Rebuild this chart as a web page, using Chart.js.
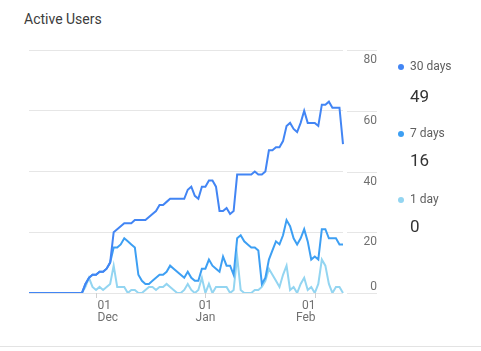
<!DOCTYPE html>
<html>
<head>
<meta charset="utf-8">
<title>Active Users</title>
<script src="https://cdn.jsdelivr.net/npm/chart.js@4.4.0/dist/chart.umd.min.js"></script>
<style>
  html, body { margin: 0; padding: 0; background: #fff; }
  body { width: 481px; height: 351px; position: relative; overflow: hidden; font-family: Roboto, 'Noto Sans', sans-serif; }
  #card-line { position: absolute; left: 0; top: 346px; width: 481px; height: 1px; background: #e3e3e3; }
  #title { position: absolute; left: 24px; top: 12px; font-size: 14px; line-height: 14px; color: #3c3c3c; white-space: nowrap; }
  #chart-wrap { position: absolute; left: 0; top: 0; width: 481px; height: 351px; }
  .lg-dot { position: absolute; width: 6px; height: 6px; border-radius: 50%; }
  .lg-name { position: absolute; font-size: 12px; line-height: 12px; color: #5f5f5f; white-space: nowrap; }
  .lg-value { position: absolute; font-size: 17px; line-height: 17px; color: #333; white-space: nowrap; }
</style>
</head>
<body>
<div id="title">Active Users</div>
<div id="chart-wrap"><canvas id="chart-active" width="481" height="351"></canvas></div>
<div id="legend"></div>
<div id="card-line"></div>
<script>
/* ── Data ── */
const startDay = '2018-11-12';

const seriesNames = ['30 days', '7 days', '1 day'];

const users30 = [
    0, 0, 0, 0, 0, 0, 0, 0, 0, 0, 0, 0, 0, 0, 0, 0,
    3, 5, 6, 6, 7, 7, 8, 10,
    20, 21, 22, 23, 23, 23,
    24, 24, 24, 24,
    25, 26, 27, 29, 29, 30,
    31, 31, 31, 31, 31,
    34, 35, 32, 31, 35, 35, 37, 37, 35,
    27, 27, 28, 26, 27,
    39, 39, 39, 39, 39, 40, 39, 39, 40,
    47, 47, 48, 48, 50,
    55, 56, 54, 53, 56, 60, 56, 56, 56, 55,
    62, 62, 63, 61, 61, 61, 49
];

const users7 = [
    0, 0, 0, 0, 0, 0, 0, 0, 0, 0, 0, 0, 0, 0, 0, 0,
    3, 5, 6, 6, 7, 7, 8, 10,
    15, 15, 16, 18, 17, 16, 15,
    6, 4, 3, 3, 4, 5, 6, 6,
    7, 9, 8, 7, 6, 5, 7, 5, 4, 4,
    8, 8, 11, 9, 8, 7, 12, 9, 9, 6,
    18, 19, 17, 16, 15, 15, 14,
    3, 5, 11, 14, 17, 16, 19,
    24, 22, 18, 16, 18, 21, 17, 11, 12, 11,
    21, 21, 18, 18, 18, 16, 16
];

const users1 = [
    0, 0, 0, 0, 0, 0, 0, 0, 0, 0, 0, 0, 0, 0, 0, 0,
    2, 5, 2, 1, 2, 1, 2, 3,
    9, 2, 2, 2, 0, 1, 1, 0, 0, 1,
    2, 2, 1, 2, 2, 3, 2, 1, 0, 0,
    1, 3, 1, 0, 1, 5, 0, 3, 0, 2,
    2, 2, 2, 0, 1, 12, 1, 0, 0, 0,
    1, 1, 2, 4, 8, 6, 4, 2, 6, 9,
    1, 2, 0, 3, 5, 1, 2, 0, 3, 11,
    9, 3, 0, 2, 2, 0
];

const yTicks = [0, 20, 40, 60, 80];
const xTickDates = ['2018-12-01', '2019-01-01', '2019-02-01'];
const xTickLabels = [['01', 'Dec'], ['01', 'Jan'], ['01', 'Feb']];

/* ── Styles ── */
const COLORS = ['#4285f4', '#3d9ff3', '#93d5f1'];
const GRID = '#e6e6e6';
const TICK_TEXT = '#707070';
const FONT = "12px Roboto, 'Noto Sans', sans-serif";

/* one category per day, starting at startDay */
const days = [];
for (let i = 0; i < users30.length; i++) {
    const d = new Date(startDay + 'T00:00:00Z');
    d.setUTCDate(d.getUTCDate() + i);
    days.push(d.toISOString().slice(0, 10));
}

/* ── Side ticks: short gridline stubs + labels right of the plot, date ticks below ── */
const sideTicks = {
    id: 'sideTicks',
    afterDraw(chart) {
        const { ctx, chartArea, scales: { x, y } } = chart;
        ctx.save();
        ctx.strokeStyle = GRID;
        ctx.lineWidth = 1;
        ctx.font = FONT;
        ctx.fillStyle = TICK_TEXT;

        // y axis
        ctx.textAlign = 'right';
        ctx.textBaseline = 'alphabetic';
        for (const v of yTicks) {
            const py = Math.round(y.getPixelForValue(v)) + 0.5;
            ctx.beginPath();
            ctx.moveTo(chartArea.right + 4, py);
            ctx.lineTo(377, py);
            ctx.stroke();
            const base = v === yTicks[0] ? py - 4 : py + 12;
            ctx.fillText(String(v), 377, base);
        }

        // x axis
        ctx.strokeStyle = '#d0d0d0';
        xTickDates.forEach((d, k) => {
            const px = Math.round(x.getPixelForValue(days.indexOf(d))) + 0.5;
            ctx.beginPath();
            ctx.moveTo(px, chartArea.bottom);
            ctx.lineTo(px, chartArea.bottom + 5);
            ctx.stroke();
            ctx.textAlign = k === 0 ? 'left' : (k === xTickDates.length - 1 ? 'right' : 'center');
            const tx = k === 0 ? px + 1 : px;
            ctx.fillText(xTickLabels[k][0], tx, chartArea.bottom + 16);
            ctx.fillText(xTickLabels[k][1], tx, chartArea.bottom + 28);
        });
        ctx.restore();
    }
};

/* ── Chart ── */
const seriesData = [users30, users7, users1];
const ctx = document.getElementById('chart-active').getContext('2d');
new Chart(ctx, {
    type: 'line',
    data: {
        labels: days,
        datasets: seriesData.map((vals, i) => ({
            label: seriesNames[i],
            data: vals,
            borderColor: COLORS[i],
            backgroundColor: COLORS[i],
            borderWidth: 2,
            pointRadius: 0,
            tension: 0,
            fill: false,
        }))
    },
    options: {
        responsive: false,
        animation: false,
        layout: { padding: { left: 29, right: 138, top: 50, bottom: 58 } },
        plugins: { legend: { display: false }, tooltip: { enabled: false } },
        scales: {
            x: { type: 'category', display: false, offset: false },
            y: {
                position: 'right',
                min: 0, max: 80,
                ticks: { display: false, stepSize: 20 },
                grid: { color: GRID, drawTicks: false },
                border: { display: false }
            }
        }
    },
    plugins: [sideTicks]
});

/* ── Legend with latest values ── */
const legend = document.getElementById('legend');
const legendTop = [60, 126.5, 193];
const valueTop = [87.5, 152, 217.5];
seriesNames.forEach((name, i) => {
    const vals = seriesData[i];
    legend.innerHTML += `
        <div class="lg-dot" style="left:398px;top:${legendTop[i] + 4}px;background:${COLORS[i]}"></div>
        <div class="lg-name" style="left:410px;top:${legendTop[i]}px">${name}</div>
        <div class="lg-value" style="left:410px;top:${valueTop[i]}px">${vals[vals.length - 1]}</div>`;
});
</script>
</body>
</html>
